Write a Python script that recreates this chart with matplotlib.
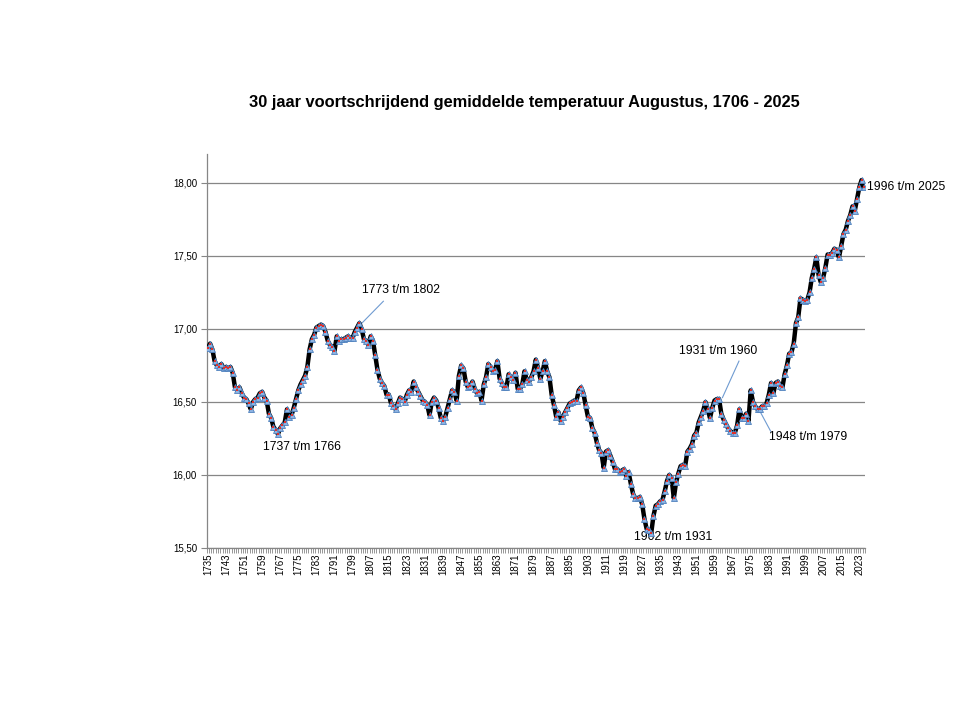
"""
30-year running mean of August temperature, 1706 - 2025.

Each point is the mean of the 30 Augusts ending in that year (1735 = 1706 t/m 1735).
Values read off the reference chart.
"""

import numpy as np
import matplotlib
matplotlib.use("Agg")
import matplotlib.pyplot as plt

FIRST_YEAR = 1735
LAST_YEAR = 2025

TEMP_1735_1766 = [16.87, 16.90, 16.86, 16.78, 16.75, 16.74, 16.76, 16.73, 16.74, 16.73,
                  16.74, 16.70, 16.60, 16.58, 16.60, 16.56, 16.53, 16.52, 16.49, 16.45,
                  16.50, 16.52, 16.53, 16.56, 16.57, 16.53, 16.51, 16.42, 16.39, 16.33,
                  16.31, 16.28]
TEMP_1767_1802 = [16.32, 16.34, 16.36, 16.45, 16.40, 16.41, 16.46, 16.52, 16.58, 16.62,
                  16.65, 16.68, 16.74, 16.86, 16.93, 16.96, 17.01, 17.02, 17.03, 17.02,
                  16.98, 16.92, 16.89, 16.88, 16.85, 16.95, 16.92, 16.93, 16.93, 16.94,
                  16.95, 16.94, 16.94, 16.98, 17.01, 17.04]
TEMP_1803_1863 = [17.00, 16.93, 16.92, 16.89, 16.95, 16.92, 16.82, 16.72, 16.66, 16.63,
                  16.61, 16.55, 16.55, 16.49, 16.47, 16.45, 16.49, 16.53, 16.52, 16.50,
                  16.55, 16.58, 16.57, 16.64, 16.60, 16.57, 16.54, 16.51, 16.50, 16.48,
                  16.41, 16.50, 16.53, 16.51, 16.46, 16.39, 16.37, 16.40, 16.46, 16.52,
                  16.58, 16.57, 16.51, 16.68, 16.75, 16.73, 16.64, 16.60, 16.61, 16.64,
                  16.59, 16.56, 16.57, 16.51, 16.62, 16.67, 16.76, 16.74, 16.71, 16.72,
                  16.78]
TEMP_1864_1900 = [16.66, 16.63, 16.60, 16.60, 16.69, 16.67, 16.65, 16.70, 16.59, 16.59,
                  16.62, 16.71, 16.65, 16.64, 16.67, 16.71, 16.79, 16.73, 16.66, 16.71,
                  16.78, 16.71, 16.67, 16.55, 16.48, 16.40, 16.43, 16.37, 16.40, 16.43,
                  16.46, 16.49, 16.50, 16.51, 16.51, 16.58, 16.60]
TEMP_1901_1931 = [16.56, 16.48, 16.40, 16.39, 16.32, 16.29, 16.22, 16.17, 16.15, 16.05,
                  16.16, 16.17, 16.13, 16.09, 16.04, 16.04, 16.02, 16.03, 16.04, 15.99,
                  16.02, 15.94, 15.87, 15.84, 15.84, 15.85, 15.80, 15.70, 15.63, 15.62,
                  15.60]
TEMP_1932_1975 = [15.72, 15.79, 15.80, 15.82, 15.83, 15.89, 15.96, 16.00, 15.98, 15.84,
                  15.95, 16.01, 16.06, 16.07, 16.06, 16.16, 16.18, 16.21, 16.27, 16.29,
                  16.36, 16.40, 16.44, 16.50, 16.45, 16.39, 16.46, 16.51, 16.52, 16.52,
                  16.42, 16.38, 16.35, 16.32, 16.30, 16.29, 16.29, 16.34, 16.45, 16.39,
                  16.39, 16.42, 16.37, 16.58]
TEMP_1976_2025 = [16.50, 16.47, 16.45, 16.45, 16.47, 16.47, 16.49, 16.55, 16.63, 16.56,
                  16.63, 16.64, 16.61, 16.60, 16.69, 16.75, 16.83, 16.84, 16.90, 17.04,
                  17.08, 17.21, 17.20, 17.19, 17.20, 17.25, 17.35, 17.41, 17.49, 17.37,
                  17.32, 17.35, 17.42, 17.51, 17.51, 17.52, 17.55, 17.54, 17.49, 17.57,
                  17.65, 17.68, 17.74, 17.78, 17.84, 17.81, 17.89, 17.97, 18.02, 17.97]

TITLE = "30 jaar voortschrijdend gemiddelde temperatuur Augustus, 1706 - 2025"
Y_TICKS = [15.5, 16.0, 16.5, 17.0, 17.5, 18.0]
X_LABEL_STEP = 8

# (text, text position, leader line end points or None)
LABELS = [
    ("1737 t/m 1766", (1776.6, 16.19), None),
    ("1773 t/m 1802", (1820.2, 17.27), ((1812.6, 17.19), (1803.1, 17.04))),
    ("1902 t/m 1931", (1940.5, 15.575), None),
    ("1931 t/m 1960", (1960.8, 16.85), ((1969.8, 16.78), (1962.5, 16.53))),
    ("1948 t/m 1979", (2000.4, 16.26), ((1983.8, 16.30), (1978.6, 16.45))),
]
END_LABEL = "1996 t/m 2025"


def main() -> None:
    temps = np.array(TEMP_1735_1766 + TEMP_1767_1802 + TEMP_1803_1863 + TEMP_1864_1900
                     + TEMP_1901_1931 + TEMP_1932_1975 + TEMP_1976_2025)
    years = np.arange(FIRST_YEAR, LAST_YEAR + 1)
    assert len(temps) == len(years), (len(temps), len(years))

    plt.rcParams["font.family"] = ["Liberation Sans", "DejaVu Sans"]
    fig = plt.figure(figsize=(9.6, 7.2), dpi=100)
    ax = fig.add_axes([0.2153, 0.2389, 0.6857, 0.5475])

    ax.plot(years, temps, color="black", lw=3.2, zorder=3, solid_joinstyle="round")
    ax.plot(years, temps, ls="none", marker="^", ms=4.2, mfc="#8db3e2",
            mec="#4f81bd", mew=0.6, zorder=4)
    ax.plot(years, temps, ls="none", marker="s", ms=1.6, mfc="#e0302a",
            mec="#e0302a", mew=0, zorder=5)

    ax.set_xlim(FIRST_YEAR - 0.5, LAST_YEAR + 0.5)
    ax.set_ylim(15.5, 18.2)
    ax.set_yticks(Y_TICKS)
    ax.set_yticklabels([f"{v:.2f}".replace(".", ",") for v in Y_TICKS])
    ax.grid(axis="y", color="#868686", lw=0.9)
    ax.set_axisbelow(True)

    label_years = years[::X_LABEL_STEP]
    ax.set_xticks(label_years)
    ax.set_xticklabels([str(y) for y in label_years], rotation=90)
    ax.set_xticks(np.arange(FIRST_YEAR - 0.5, LAST_YEAR + 1), minor=True)
    ax.tick_params(axis="x", which="major", length=0, labelsize=7, pad=4)
    ax.tick_params(axis="x", which="minor", length=3.5, width=0.6, color="#868686")
    ax.tick_params(axis="y", length=4, color="#868686", labelsize=7, pad=3)

    for side in ("top", "right"):
        ax.spines[side].set_visible(False)
    for side in ("left", "bottom"):
        ax.spines[side].set_color("#868686")
        ax.spines[side].set_linewidth(0.9)

    for text, pos, leader in LABELS:
        ax.text(pos[0], pos[1], text, fontsize=8.8, ha="center", va="center")
        if leader is not None:
            (x0, y0), (x1, y1) = leader
            ax.plot([x0, x1], [y0, y1], color="#6f9bd1", lw=0.8, zorder=2)
    ax.text(LAST_YEAR + 1.2, temps[-1], END_LABEL, fontsize=8.8, ha="left", va="center",
            clip_on=False)

    fig.text(0.546, 0.857, TITLE, fontsize=11.8, fontweight="bold", ha="center",
             va="center")

    fig.savefig("out.png", dpi=100)
    plt.close(fig)


if __name__ == "__main__":
    main()
